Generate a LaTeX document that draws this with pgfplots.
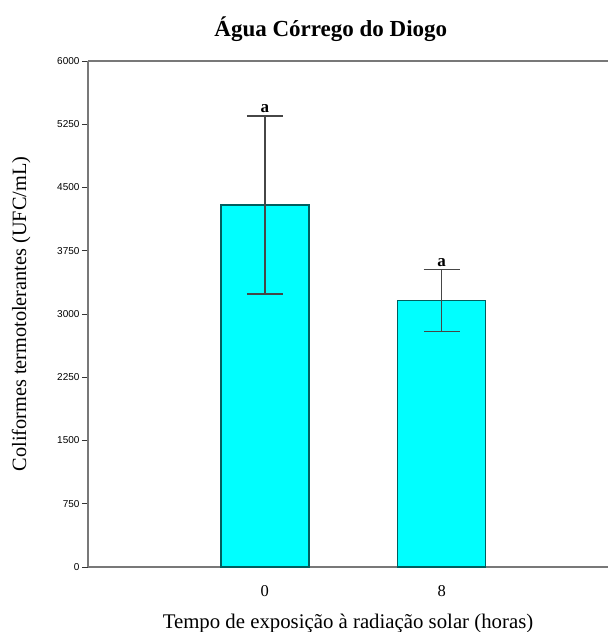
\documentclass[border=0pt]{standalone}
\usepackage{pgfplots}
\pgfplotsset{compat=1.18}
\usepackage{fontspec}
\setmainfont{Liberation Serif}
\newfontfamily\tickfont{Liberation Sans}
\definecolor{barfill}{RGB}{0,255,255}
\definecolor{baredge}{RGB}{0,95,95}
\definecolor{axgray}{RGB}{120,120,120}
\definecolor{errgray}{RGB}{70,70,70}
\begin{document}
\begin{tikzpicture}
\begin{axis}[
  at={(0,0)}, anchor=south west,
  scale only axis,
  width=520pt, height=506pt,
  xmin=0, xmax=2.94,
  ymin=0, ymax=6000,
  axis x line=box,
  axis y line*=left,
  axis line style={axgray, line width=1.8pt},
  ytick={0,750,1500,2250,3000,3750,4500,5250,6000},
  yticklabel style={font=\tickfont\fontsize{10}{11}\selectfont, /pgf/number format/assume math mode=true, xshift=1pt},
  scaled y ticks=false,
  /pgf/number format/.cd, 1000 sep={}, /pgfplots/.cd,
  tick align=outside,
  major tick length=6pt,
  ytick style={black!80, line width=1pt},
  xtick={1,2},
  xticklabels={0,8},
  xtick style={draw=none},
  xticklabel style={font=\fontsize{16.5}{18}\selectfont, anchor=base, yshift=-23pt},
  xlabel={Tempo de exposição à radiação solar (horas)},
  xlabel style={font=\fontsize{20.8}{22}\selectfont, at={(axis description cs:0.5,-0.1225)}, anchor=base},
  ylabel={Coliformes termotolerantes (UFC/mL)},
  ylabel style={font=\fontsize{20.3}{22}\selectfont, at={(axis description cs:-0.1288,0.5)}, anchor=center},
  title={\textbf{Água Córrego do Diogo}},
  title style={font=\fontsize{23}{24}\selectfont, at={(axis description cs:0.467,1.0366)}, anchor=base},
  clip=false,
]
\addplot[ybar, bar width=88pt, fill=barfill, draw=baredge, line width=1.4pt,
  error bars/.cd, y dir=both, y explicit,
  error bar style={errgray, line width=1.4pt},
  error mark options={rotate=90, mark size=18pt, line width=1.4pt, errgray}]
coordinates {
  (1,4293) +- (0,1055)
  (2,3162) +- (0,368)
};
\node[font=\bfseries\fontsize{17}{18}\selectfont, anchor=south, inner sep=2pt] at (axis cs:1,5356) {a};
\node[font=\bfseries\fontsize{17}{18}\selectfont, anchor=south, inner sep=2pt] at (axis cs:2,3534) {a};
\end{axis}
\pgfresetboundingbox
\path (-88pt,-65pt) rectangle (520pt,567pt);
\end{tikzpicture}
\end{document}
